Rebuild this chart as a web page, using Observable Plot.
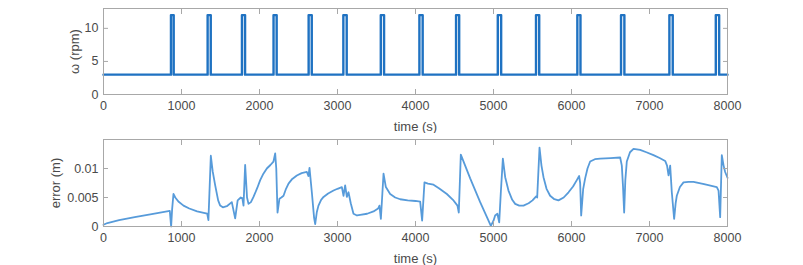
<!DOCTYPE html>
<html>
<head>
<meta charset="utf-8">
<script src="https://cdn.jsdelivr.net/npm/d3@7"></script>
<script src="https://cdn.jsdelivr.net/npm/@observablehq/plot@0.6"></script>
<style>
  html, body { margin: 0; padding: 0; background: #fff; }
  #chart { width: 803px; }
  #chart svg { display: block; }
</style>
</head>
<body>
<div id="chart"></div>
<script>
// ---- data ----
const pulseStart = [865, 1335, 1775, 2180, 2630, 3075, 3555, 4050, 4520, 5055, 5545, 6075, 6635, 7255, 7850];
const pulseEnd   = [900, 1375, 1815, 2220, 2670, 3118, 3597, 4092, 4560, 5098, 5586, 6115, 6678, 7298, 7893];
const omegaBase = 3;
const omegaHigh = 12;

const errTime = [0, 50, 200, 400, 600, 850, 867, 880, 897, 920, 960, 1026, 1100, 1200, 1300, 1330, 1345, 1376, 1400, 1432, 1470, 1496, 1530, 1581, 1645, 1688, 1720, 1760, 1780, 1795, 1816, 1840, 1859, 1890, 1923, 1970, 2009, 2050, 2094, 2140, 2179, 2201, 2215, 2231, 2256, 2280, 2308, 2340, 2372, 2420, 2479, 2540, 2607, 2628, 2641, 2671, 2700, 2714, 2735, 2756, 2790, 2821, 2880, 2949, 3000, 3056, 3077, 3098, 3120, 3141, 3170, 3205, 3250, 3291, 3380, 3462, 3520, 3538, 3556, 3590, 3620, 3675, 3740, 3803, 3900, 4000, 4060, 4085, 4115, 4160, 4231, 4300, 4402, 4480, 4538, 4555, 4581, 4701, 4829, 4936, 4966, 5000, 5021, 5050, 5073, 5094, 5120, 5150, 5192, 5240, 5278, 5330, 5385, 5450, 5500, 5547, 5560, 5590, 5615, 5641, 5680, 5726, 5780, 5833, 5900, 5962, 6020, 6068, 6098, 6111, 6124, 6150, 6175, 6205, 6239, 6300, 6368, 6500, 6624, 6645, 6660, 6675, 6690, 6709, 6750, 6795, 6880, 6960, 7051, 7130, 7201, 7225, 7244, 7265, 7286, 7316, 7335, 7350, 7390, 7436, 7500, 7564, 7700, 7863, 7885, 7906, 7927, 7950, 7970, 8000];
const errValue = [0.0003, 0.0006, 0.0011, 0.0016, 0.0021, 0.0027, 0.0000, 0.0030, 0.0056, 0.0050, 0.0043, 0.0036, 0.0031, 0.0026, 0.0023, 0.0022, 0.0011, 0.0122, 0.0095, 0.0071, 0.0045, 0.0036, 0.0033, 0.0035, 0.0042, 0.0014, 0.0045, 0.0050, 0.0049, 0.0036, 0.0106, 0.0050, 0.0039, 0.0042, 0.0051, 0.0066, 0.0080, 0.0091, 0.0100, 0.0106, 0.0112, 0.0126, 0.0100, 0.0024, 0.0048, 0.0050, 0.0053, 0.0065, 0.0074, 0.0082, 0.0088, 0.0092, 0.0094, 0.0087, 0.0101, 0.0059, 0.0015, 0.0004, 0.0025, 0.0036, 0.0046, 0.0051, 0.0057, 0.0062, 0.0065, 0.0068, 0.0053, 0.0071, 0.0051, 0.0059, 0.0040, 0.0022, 0.0019, 0.0020, 0.0022, 0.0026, 0.0031, 0.0036, 0.0013, 0.0091, 0.0068, 0.0056, 0.0050, 0.0047, 0.0045, 0.0044, 0.0043, 0.0010, 0.0076, 0.0074, 0.0072, 0.0066, 0.0056, 0.0046, 0.0036, 0.0024, 0.0124, 0.0083, 0.0042, 0.0010, 0.0001, 0.0010, 0.0019, 0.0022, 0.0007, 0.0059, 0.0117, 0.0085, 0.0062, 0.0046, 0.0039, 0.0036, 0.0036, 0.0040, 0.0045, 0.0052, 0.0050, 0.0136, 0.0105, 0.0085, 0.0065, 0.0053, 0.0047, 0.0045, 0.0050, 0.0059, 0.0069, 0.0080, 0.0087, 0.0075, 0.0019, 0.0065, 0.0083, 0.0100, 0.0112, 0.0116, 0.0117, 0.0118, 0.0119, 0.0105, 0.0070, 0.0024, 0.0080, 0.0112, 0.0128, 0.0134, 0.0132, 0.0128, 0.0123, 0.0118, 0.0113, 0.0105, 0.0088, 0.0105, 0.0059, 0.0013, 0.0040, 0.0053, 0.0068, 0.0076, 0.0077, 0.0077, 0.0073, 0.0068, 0.0062, 0.0016, 0.0123, 0.0105, 0.0094, 0.0084];

const xTicks = [0, 1000, 2000, 3000, 4000, 5000, 6000, 7000, 8000];
const omegaTicks = [0, 5, 10];
const errTicks = [0, 0.005, 0.01];
const xLabel = "time (s)";
const omegaLabel = "ω (rpm)";
const errLabel = "error (m)";

// ---- build tables ----
const omegaSeries = [{t: 0, w: omegaBase}];
pulseStart.forEach((s, i) => {
  omegaSeries.push({t: s, w: omegaHigh});
  omegaSeries.push({t: pulseEnd[i], w: omegaBase});
});
omegaSeries.push({t: 8000, w: omegaBase});
const errSeries = errTime.map((t, i) => ({t, e: errValue[i]}));

const frameColor = "#a8a8a8";
const textColor = "#4a4a4a";
const font = "'Liberation Sans', Arial, sans-serif";

function inwardTicks(yTicks) {
  const common = {stroke: frameColor, tickSize: 5, fill: "none", label: null};
  return [
    Plot.axisX(xTicks, {...common, anchor: "bottom", dy: -5}),
    Plot.axisX(xTicks, {...common, anchor: "top", dy: 5}),
    Plot.axisY(yTicks, {...common, anchor: "left", dx: 5}),
    Plot.axisY(yTicks, {...common, anchor: "right", dx: -5})
  ];
}

function panel({height, marginTop, marginBottom, yDomain, yTicks, yLabel, yLabelDx, marks}) {
  return Plot.plot({
    width: 803,
    height,
    marginLeft: 103,
    marginRight: 76,
    marginTop,
    marginBottom,
    style: {fontFamily: font, fontSize: "12px", color: textColor, background: "#fff"},
    x: {domain: [0, 8000]},
    y: {domain: yDomain},
    marks: [
      ...marks,
      Plot.frame({stroke: frameColor}),
      ...inwardTicks(yTicks),
      Plot.axisX(xTicks, {anchor: "bottom", tickSize: 0, tickPadding: 7, tickFormat: d => String(d), label: null, fill: textColor, fontSize: 12.5}),
      Plot.axisY(yTicks, {anchor: "left", tickSize: 0, tickPadding: 5, tickFormat: d => String(d), label: null, fill: textColor, fontSize: 12.5}),
      Plot.text([xLabel], {frameAnchor: "bottom", dy: 32, lineAnchor: "middle", textAnchor: "middle", text: d => d, fill: textColor, fontSize: 13}),
      Plot.text([yLabel], {frameAnchor: "left", dx: yLabelDx, rotate: -90, lineAnchor: "middle", textAnchor: "middle", text: d => d, fill: textColor, fontSize: 13})
    ]
  });
}

const topPanel = panel({
  height: 133, marginTop: 8, marginBottom: 39,
  yDomain: [0, 13], yTicks: omegaTicks, yLabel: omegaLabel, yLabelDx: -29,
  marks: [
    Plot.line(omegaSeries, {x: "t", y: "w", curve: "step-after", stroke: "#1f72c2", strokeWidth: 2.4})
  ]
});

const bottomPanel = panel({
  height: 132, marginTop: 6, marginBottom: 39,
  yDomain: [0, 0.015], yTicks: errTicks, yLabel: errLabel, yLabelDx: -48,
  marks: [
    Plot.line(errSeries, {x: "t", y: "e", stroke: "#3a8ad4", strokeWidth: 1.8, strokeOpacity: 0.85})
  ]
});

const chart = document.getElementById("chart");
chart.appendChild(topPanel);
chart.appendChild(bottomPanel);
</script>
</body>
</html>
